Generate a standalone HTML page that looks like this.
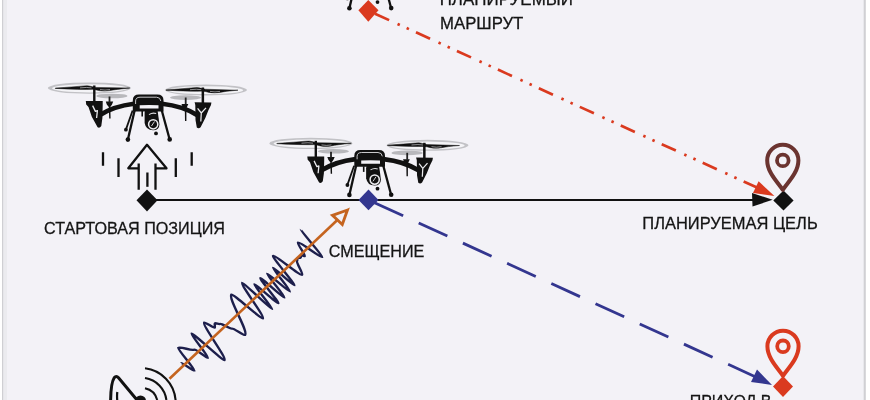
<!DOCTYPE html>
<html><head><meta charset="utf-8">
<style>
html,body{margin:0;padding:0;width:870px;height:400px;overflow:hidden;background:#ffffff;}
#c{position:absolute;left:0;top:0;width:870px;height:400px;will-change:transform;}
.t{font-family:"Liberation Sans",sans-serif;fill:#141414;stroke:#141414;stroke-width:0.28px;}
</style></head><body>
<svg id="c" width="870" height="400" viewBox="0 0 870 400">
<defs>
<g id="drone">
  <!-- back propeller blurs -->
  <ellipse cx="111.9" cy="96" rx="15.5" ry="2.3" fill="#b8b8bc"/>
  <ellipse cx="185.6" cy="97.6" rx="15.6" ry="2.3" fill="#b8b8bc"/>
  <!-- back motors -->
  <path d="M105.8 101.6 L113.2 101.6 L112 104.5 L110.3 107 L110.6 118.5 L109.2 118.5 L108.8 107 L106.8 104.5 Z" fill="#111"/>
  <rect x="108.6" y="96.5" width="1.8" height="6" fill="#222"/>
  <path d="M181.5 104 L188.3 104 L187.2 106.5 L186.4 108 L186.4 121 L185 121 L184.8 108 L182.5 106.5 Z" fill="#111"/>
  <rect x="184.8" y="97.5" width="1.8" height="7" fill="#222"/>
  <!-- front propeller blurs -->
  <ellipse cx="89.4" cy="88.1" rx="41.6" ry="5.7" fill="#c2c2c6"/>
  <ellipse cx="89.8" cy="88.3" rx="37.8" ry="4.1" fill="#f4f4f7"/>
  <ellipse cx="206" cy="90" rx="41" ry="5.5" fill="#c2c2c6"/>
  <ellipse cx="205.8" cy="90.2" rx="37.4" ry="3.9" fill="#f4f4f7"/>
  <!-- blades -->
  <path stroke="#111" stroke-width="0.5" d="M55.3 88.1 Q74 86.8 84 85.9 Q88.5 85.4 90.5 86.3 L94.5 87.3 L94.5 89.3 Q80 89.7 55.3 88.4 Z" fill="#111"/>
  <path d="M80 87.9 Q87 87 91.5 87.9" fill="none" stroke="#e6e6ea" stroke-width="0.6"/>
  <path stroke="#111" stroke-width="0.5" d="M94 87.4 L129.8 88 Q115 89.5 110 90.6 Q104 91.6 99 90.6 Q96 89.9 94 89.4 Z" fill="#111"/>
  <path d="M100 89.6 Q105 90.6 110 89.6" fill="none" stroke="#e6e6ea" stroke-width="0.6"/>
  <path stroke="#111" stroke-width="0.5" d="M166 89.9 Q184 88.6 194 87.7 Q198.5 87.2 200.5 88.1 L204.5 89.1 L204.5 91.1 Q190 91.5 166 90.2 Z" fill="#111"/>
  <path d="M190 89.7 Q197 88.8 201.5 89.7" fill="none" stroke="#e6e6ea" stroke-width="0.6"/>
  <path stroke="#111" stroke-width="0.5" d="M204 89.2 L238 90.2 Q225 91.3 220 92.4 Q214 93.4 209 92.4 Q206 91.7 204 91.2 Z" fill="#111"/>
  <path d="M210 91.4 Q215 92.4 220 91.4" fill="none" stroke="#e6e6ea" stroke-width="0.6"/>
  <!-- shafts -->
  <rect x="93.1" y="85.5" width="2.4" height="17" fill="#111"/>
  <rect x="201.6" y="87.5" width="2.5" height="16" fill="#111"/>
  <!-- arms -->
  <path d="M100 115 Q114 106.2 134 103.8" fill="none" stroke="#111" stroke-width="4.6"/>
  <path d="M162 103.8 Q183 106.2 197 115" fill="none" stroke="#111" stroke-width="4.6"/>
  <!-- motor housings -->
  <path d="M85.8 101.1 L102.7 101.1 L102.7 105 L102.4 118 L101.3 126 Q99.5 128.6 97.6 127.2 L91.8 116.8 L88.5 107 L86.2 104.5 Z" fill="#111"/>
  <path d="M92.6 105.6 L95.4 111.4 L97.4 110.6 L96.6 118" fill="none" stroke="#ececef" stroke-width="1.3" stroke-linejoin="round"/>
  <path d="M194.6 102.2 L211.4 102.4 L211 105 L208.5 110 L205.3 118 L200.6 127.2 Q198.6 129 196.8 127.4 L195.5 120 L195.3 105 Z" fill="#111"/>
  <path d="M197.6 108.3 L201.3 113 L206 107.8 M201.3 113 L200.8 121.5" fill="none" stroke="#ececef" stroke-width="1.25" stroke-linejoin="round"/>
  <!-- body -->
  <path d="M132.8 111.5 L132.8 100.5 Q132.8 94.6 139 94.6 L157.3 94.6 Q163.5 94.6 163.5 100.5 L163.5 111.5 Z" fill="#111"/>
  <path d="M135.6 104 L135.6 101 Q135.6 97.3 140 97.2 L156.5 97.2 Q160.5 97.3 160.8 101" fill="none" stroke="#dcdce0" stroke-width="0.9"/>
  <path d="M139.7 105.2 Q149 104.6 158.5 105.2 L158.5 108.4 L139.7 108.4 Z" fill="#f3f2f7"/>
  <!-- legs -->
  <path d="M132.6 110.5 L125.9 129.6" stroke="#111" stroke-width="1.8"/>
  <path d="M134.6 110.5 L127.9 139.5" stroke="#111" stroke-width="2.3"/>
  <path d="M161.8 110.5 L169.6 139.3" stroke="#111" stroke-width="2.3"/>
  <path d="M142.2 111 L142.2 116.6" stroke="#111" stroke-width="1.6"/>
  <circle cx="125.9" cy="129.7" r="1.9" fill="#111"/>
  <circle cx="127.9" cy="139.6" r="2.3" fill="#111"/>
  <circle cx="169.7" cy="139.4" r="2.3" fill="#111"/>
  <circle cx="156" cy="133.4" r="1.9" fill="#111"/>
  <!-- camera -->
  <path d="M145 110.8 L157.6 110.8 L158.6 118 L159.4 124.3 Q159.4 130.3 153 130.3 Q146 130.3 144.6 123 L144.6 113 Z" fill="#111"/>
  <circle cx="153.2" cy="124.3" r="4.6" fill="none" stroke="#ececef" stroke-width="1.55"/>
  <path d="M154.5 121.5 L151.5 126" fill="none" stroke="#e8e8ea" stroke-width="0.9"/>
  <path d="M149 114.6 Q152.5 112.3 156.2 113.6" fill="none" stroke="#dcdce0" stroke-width="1.1"/>
</g>
<g id="pin">
  <path d="M0 29.5 C-5 22 -15.6 12 -15.6 0 A15.6 15.6 0 0 1 15.6 0 C15.6 12 5 22 0 29.5 Z" fill="none" stroke-width="4" stroke-linejoin="round"/>
  <circle cx="0" cy="0" r="5.8" fill="none" stroke-width="3.8"/>
</g>
</defs>

<!-- background with borders -->
<rect x="0" y="0" width="870" height="400" fill="#ffffff"/>
<rect x="2" y="0" width="863" height="400" fill="#f3f2f7"/>
<rect x="2" y="0" width="1.5" height="400" fill="#cfcfd3"/>
<rect x="3.5" y="0" width="3.5" height="400" fill="#ebebef"/>
<rect x="863" y="0" width="1" height="400" fill="#e8e8ec"/>
<rect x="864" y="0" width="1.8" height="400" fill="#d0d0d4"/>

<!-- drones -->
<use href="#drone"/>
<use href="#drone" transform="translate(221.5 55.3)"/>
<use href="#drone" transform="translate(221.5 -131.3)"/>

<!-- up arrow -->
<g fill="none" stroke="#111" stroke-width="2.3" stroke-linejoin="round">
  <path d="M138.2 168.3 L128.3 168.3 L147 144.8 L166.5 168.3 L155.8 168.3"/>
  <path d="M138.7 163.5 L138.7 189.8 M155.5 163.5 L155.5 189.8"/>
  <path d="M147.4 172.5 L147.4 186.8"/>
  <path d="M103 152.3 L103 165.8 M118.5 158.3 L118.5 177 M175.8 158.3 L175.8 177 M191.7 152.3 L191.7 165.8"/>
</g>

<!-- main horizontal line -->
<path d="M147 200 L756 200" stroke="#111" stroke-width="2.1"/>
<path d="M752 193 L772.7 199.8 L752.5 206.5 Z" fill="#111"/>

<!-- red dash-dot -->
<path d="M368 10.5 L757 187.5" stroke="#da3a1f" stroke-width="2.7" stroke-dasharray="15.5 9.25 2.5 7.5 2.5 7.75" stroke-dashoffset="37.3" fill="none"/>
<path d="M758.6 181.3 L774.4 195.9 L753 193 Z" fill="#da3a1f"/>

<!-- blue dashed -->
<path d="M368.5 200 L757 377.5" stroke="#33368f" stroke-width="2.8" stroke-dasharray="31.5 17.1" stroke-dashoffset="-6.6" fill="none"/>
<path d="M757 369.5 L772 385 L751 382 Z" fill="#33368f"/>

<!-- diamonds -->
<path d="M147 189.5 L157.5 200.3 L147 211.5 L136.5 200.3 Z" fill="#111"/>
<path d="M368.5 189.5 L378.5 200 L368.5 210.3 L358.5 200 Z" fill="#33368f"/>
<path d="M368.3 0 L378.5 10.3 L368.3 21.7 L358.4 10.3 Z" fill="#da3a1f"/>
<path d="M783.5 190.4 L793.6 200.5 L783.5 210.6 L773.3 200.5 Z" fill="#111"/>
<path d="M783 376 L793 386.5 L783 397 L773 386.5 Z" fill="#da3a1f"/>

<!-- pins -->
<use href="#pin" transform="translate(782.8 160.4)" stroke="#6b3430"/>
<use href="#pin" transform="translate(783 346.3)" stroke="#da3a1f"/>

<!-- wave -->
<path id="wave" d="M181.0 363.0 C182.0 362.0 193.5 371.5 194.6 370.5 C195.3 369.8 177.3 348.7 178.0 348.0 C180.4 345.7 192.1 351.7 194.5 349.5 C195.4 348.6 207.1 358.6 208.0 357.8 C209.0 356.8 190.5 334.6 191.5 333.7 C192.8 332.5 223.2 361.3 224.5 360.1 C226.9 357.8 201.8 324.8 204.2 322.5 C205.1 321.7 213.8 328.5 214.7 327.7 C215.4 327.1 214.2 324.1 214.9 323.4 C215.6 322.7 219.3 324.6 220.0 323.9 C221.2 322.8 230.8 329.7 232.0 328.5 C233.1 327.5 243.9 336.0 245.0 335.0 C248.9 331.3 227.5 298.2 231.5 294.5 C232.9 293.2 261.6 319.8 262.9 318.5 C265.0 316.5 240.2 284.7 242.3 282.7 C243.1 282.0 271.4 309.8 272.2 309.1 C273.1 308.2 253.4 285.2 254.3 284.3 C255.2 283.4 277.4 304.2 278.4 303.2 C279.3 302.4 259.4 279.0 260.3 278.2 C261.2 277.3 283.6 298.3 284.5 297.4 C285.3 296.6 266.3 274.5 267.1 273.7 C268.0 272.8 289.0 292.4 290.0 291.5 C290.9 290.7 272.2 268.6 273.0 267.8 C273.8 267.1 293.6 286.0 294.4 285.3 C295.4 284.3 271.9 257.0 272.9 256.0 C274.7 254.3 300.4 276.5 302.2 274.7 C303.4 273.6 295.8 262.2 297.0 261.0 C297.6 260.5 297.1 258.6 297.6 258.1 C298.1 257.6 300.0 258.2 300.5 257.7 C301.1 257.2 301.0 255.6 301.6 255.1 C302.0 254.7 304.4 256.3 304.8 256.0 C305.7 255.1 297.0 243.6 297.9 242.7 C299.7 241.0 320.6 258.5 322.4 256.8 C323.0 256.2 300.1 230.3 300.7 229.7" fill="none" stroke="#1d1f4c" stroke-width="2.4"/>
<!-- orange arrow -->
<path d="M169.5 378.8 L337.6 219.8" stroke="#c5641f" stroke-width="2.6" fill="none"/>
<path d="M347.5 210 L332.5 215.3 L342.3 224.5 Z" fill="none" stroke="#c5641f" stroke-width="2.9" stroke-linejoin="miter"/>

<!-- dish -->
<g fill="none" stroke="#111" stroke-width="3">
  <path d="M137 400 L118.5 377.8 Q116.3 375.2 114.2 377.8 Q110.8 383 110.6 401"/>
  <path d="M117.3 392 Q116.8 396 117.3 401" stroke-width="2.2"/>
</g>
<g fill="none" stroke="#111" stroke-width="2.1">
  <path d="M145 368.3 A34.9 34.9 0 0 1 175.6 400"/>
  <path d="M145 378 A25.4 25.4 0 0 1 166.4 400"/>
  <path d="M145 388.2 A16 16 0 0 1 157.2 400"/>
</g>
<circle cx="140.5" cy="401" r="5.5" fill="#111"/>

<!-- text -->
<text class="t" x="44.05" y="234.1" font-size="17" textLength="180.89" lengthAdjust="spacingAndGlyphs">СТАРТОВАЯ ПОЗИЦИЯ</text>
<text class="t" x="328.75" y="256.6" font-size="17" textLength="95.62" lengthAdjust="spacingAndGlyphs">СМЕЩЕНИЕ</text>
<text class="t" x="642.33" y="229.2" font-size="17" textLength="175.38" lengthAdjust="spacingAndGlyphs">ПЛАНИРУЕМАЯ ЦЕЛЬ</text>
<text class="t" x="439.7" y="5.1" font-size="17" textLength="133.24" lengthAdjust="spacingAndGlyphs">ПЛАНИРУЕМЫЙ</text>
<text class="t" x="440.01" y="29" font-size="17" textLength="83.36" lengthAdjust="spacingAndGlyphs">МАРШРУТ</text>
<text class="t" x="689.66" y="407.3" font-size="17" textLength="81.87" lengthAdjust="spacingAndGlyphs">ПРИХОД В</text>
</svg>
</body></html>
